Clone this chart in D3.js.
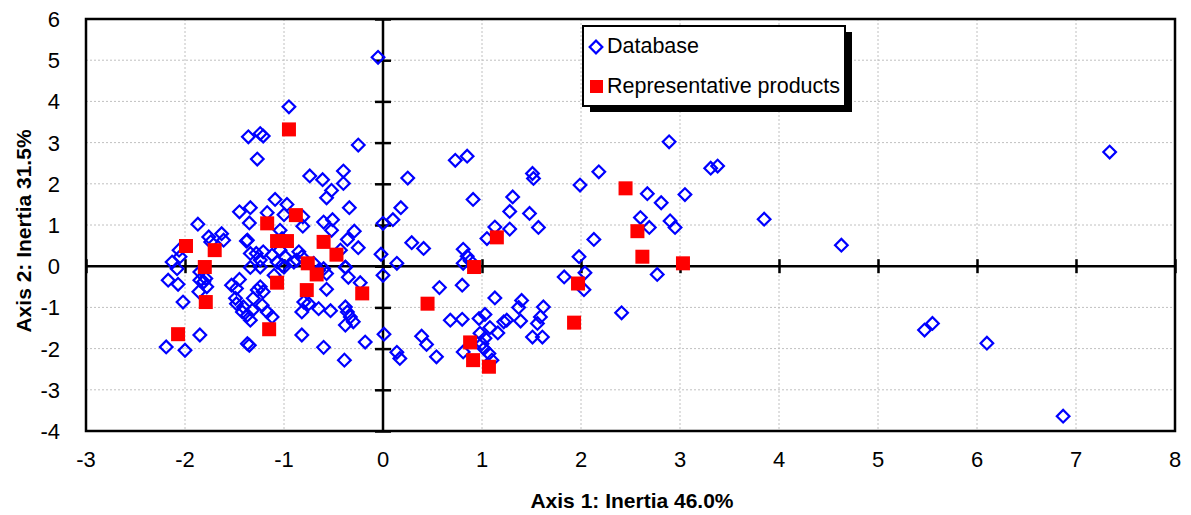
<!DOCTYPE html>
<html>
<head>
<meta charset="utf-8">
<script src="https://cdn.jsdelivr.net/npm/d3@7"></script>
<style>
    body { margin: 0; background: #fff; }
    svg text { font-family: "Liberation Sans", Arial, sans-serif; }
</style>
</head>
<body>
<svg id="chart" width="1191" height="515"></svg>
<script>
// tick values for both axes
var xTicks = [-3, -2, -1, 0, 1, 2, 3, 4, 5, 6, 7, 8];
var yTicks = [-4, -3, -2, -1, 0, 1, 2, 3, 4, 5, 6];

// axis titles and legend labels
var xTitle = 'Axis 1: Inertia 46.0%';
var yTitle = 'Axis 2: Inertia 31.5%';
var seriesNames = ['Database', 'Representative products'];

// database products (axis 1, axis 2)
var database = [
    [-0.95, 3.87], [-1.36, 3.14], [-1.24, 3.22], [-1.21, 3.16], [-1.27, 2.60], [-0.25, 2.94],
    [-0.74, 2.19], [-0.61, 2.10], [-0.40, 2.31], [-0.40, 2.01], [-0.52, 1.84], [-0.57, 1.66], [-0.34, 1.42],
    [-1.09, 1.62], [-0.97, 1.50], [-1.00, 1.25], [-1.45, 1.32], [-1.34, 1.42], [-1.17, 1.30], [-0.81, 1.20],
    [-1.35, 1.05], [-0.81, 0.97], [-1.04, 0.87], [-0.60, 1.07], [-0.51, 1.13], [-0.52, 0.87], [-0.29, 0.85],
    [-0.36, 0.65], [-0.25, 0.45], [-1.87, 1.02], [-1.38, 0.61], [-1.76, 0.71], [-1.74, 0.59], [-1.63, 0.79],
    [-1.61, 0.63], [-1.37, 0.63], [-2.06, 0.39], [-2.13, 0.10], [-2.08, -0.06], [-2.05, 0.23],
    [-1.34, 0.31], [-1.28, 0.31], [-1.21, 0.35], [-1.12, 0.27], [-1.24, 0.15], [-1.34, -0.03], [-1.24, -0.02],
    [-1.02, 0.67], [-1.04, 0.39], [-0.85, 0.35], [-0.82, 0.23], [-0.87, 0.15], [-0.99, 0.23], [-1.07, 0.10],
    [-1.02, 0.02], [-0.43, 0.39], [-0.38, -0.02], [-0.70, 0.07], [-0.65, -0.10], [-0.90, 0.10],
    [0.00, 1.04], [0.10, 1.13], [0.18, 1.42], [0.25, 2.14], [-0.05, 5.07], [-0.02, 0.29], [0.14, 0.07],
    [-2.17, -0.34], [-2.07, -0.44], [-2.02, -0.87], [-1.85, -1.67], [-2.19, -1.96], [-2.00, -2.04],
    [-1.85, -0.34], [-1.79, -0.30], [-1.78, -0.50], [-1.81, -0.38], [-1.86, -0.62], [-1.85, -0.14],
    [-1.53, -0.46], [-1.45, -0.32], [-1.48, -0.54], [-1.49, -0.78], [-1.48, -0.91], [-1.41, -0.99],
    [-1.42, -1.11], [-1.37, -1.19], [-1.32, -1.07], [-1.34, -1.31], [-1.27, -0.58], [-1.24, -0.50],
    [-1.31, -0.78], [-1.21, -0.62], [-1.22, -0.95], [-1.17, -1.11], [-1.12, -1.23], [-1.37, -1.88],
    [-1.35, -1.92], [-1.10, -0.22], [-1.00, -0.02],
    [-0.57, -0.56], [-0.35, -0.27], [-0.23, -0.40], [-0.38, -0.03], [0.00, -0.22],
    [-0.80, -0.87], [-0.75, -0.91], [-0.82, -1.11], [-0.65, -1.03], [-0.53, -1.08],
    [-0.38, -0.99], [-0.36, -1.11], [-0.33, -1.23], [-0.30, -1.35], [-0.38, -1.43],
    [-0.82, -1.67], [-0.60, -1.97], [-0.18, -1.84], [-0.39, -2.28], [0.01, -1.65],
    [-0.60, -0.06], [-0.57, -0.18],
    [2.89, 3.02], [0.73, 2.57], [0.85, 2.67], [1.51, 2.25], [1.52, 2.13], [2.18, 2.29], [1.99, 1.97],
    [2.67, 1.76], [3.05, 1.74], [2.81, 1.54], [1.31, 1.68], [0.91, 1.62], [1.28, 1.33], [1.48, 1.28],
    [1.57, 0.94], [1.28, 0.90], [1.13, 0.95], [1.05, 0.67], [2.60, 1.18], [2.69, 0.94], [2.90, 1.10],
    [2.95, 0.94], [2.13, 0.65], [0.29, 0.57], [0.41, 0.43], [0.81, 0.41], [0.85, 0.24], [0.88, 0.13],
    [0.81, 0.07], [1.98, 0.23], [1.83, -0.26], [2.04, -0.16], [2.03, -0.57], [2.77, -0.20],
    [0.57, -0.52], [0.80, -0.46], [1.13, -0.77], [1.40, -0.83], [1.37, -1.00], [1.62, -0.99], [2.41, -1.13],
    [0.68, -1.31], [0.80, -1.29], [0.97, -1.27], [1.03, -1.17], [1.08, -1.49], [1.16, -1.62], [1.22, -1.35],
    [1.25, -1.31], [1.39, -1.33], [1.56, -1.39], [1.59, -1.23], [1.51, -1.72], [1.61, -1.72],
    [0.39, -1.70], [0.44, -1.90], [0.14, -2.09], [0.17, -2.24], [0.54, -2.20],
    [0.98, -1.63], [1.03, -1.75], [1.00, -1.88], [0.81, -2.08], [1.02, -2.00], [1.07, -2.12], [1.10, -2.28],
    [3.31, 2.38], [3.38, 2.43], [3.85, 1.14], [4.63, 0.51], [5.47, -1.55], [5.55, -1.39],
    [6.10, -1.87], [6.87, -3.64], [7.34, 2.77]
];

// representative products (axis 1, axis 2)
var representative = [
    [-0.95, 3.32], [-0.88, 1.24], [-1.17, 1.04], [-1.07, 0.61], [-0.97, 0.61], [-0.60, 0.59], [-0.47, 0.28],
    [-1.99, 0.49], [-1.70, 0.39], [-1.80, -0.02], [-1.79, -0.87], [-2.07, -1.65], [-1.07, -0.40],
    [-0.76, 0.07], [-0.67, -0.20], [-0.77, -0.58], [-0.21, -0.66], [-1.15, -1.53],
    [1.15, 0.70], [0.92, -0.02], [0.45, -0.91], [0.88, -1.85], [0.91, -2.28], [1.07, -2.44],
    [2.45, 1.89], [2.57, 0.85], [2.62, 0.23], [3.03, 0.07], [1.97, -0.42], [1.93, -1.37]
];

(function (d3) {
    var svg = d3.select('#chart'),
        plot = { left: 86, right: 1175, top: 19, bottom: 431 },
        x = d3.scaleLinear().domain([-3, 8]).range([plot.left, plot.right]),
        y = d3.scaleLinear().domain([-4, 6]).range([plot.bottom, plot.top]),
        blue = '#0000ff',
        red = '#ff0000';

    // dotted gridlines
    var grid = svg.append('g').attr('class', 'grid')
        .attr('stroke', '#c0c0c0')
        .attr('stroke-width', 1)
        .attr('stroke-dasharray', '2,2');
    grid.selectAll('line.gx').data(xTicks).enter().append('line')
        .attr('class', 'gx')
        .attr('x1', function (d) { return x(d); })
        .attr('x2', function (d) { return x(d); })
        .attr('y1', plot.top)
        .attr('y2', plot.bottom);
    grid.selectAll('line.gy').data(yTicks).enter().append('line')
        .attr('class', 'gy')
        .attr('x1', plot.left)
        .attr('x2', plot.right)
        .attr('y1', function (d) { return y(d); })
        .attr('y2', function (d) { return y(d); });

    // axes crossing at the origin, with cross tick marks
    var xAxis = d3.axisBottom(x).tickValues(xTicks).tickSize(14).tickFormat('');
    var yAxis = d3.axisLeft(y).tickValues(yTicks).tickSize(16).tickFormat('');
    svg.append('g')
        .attr('transform', 'translate(0,' + (y(0) - 7) + ')')
        .call(xAxis)
        .call(function (g) {
            g.select('.domain').remove();
            g.selectAll('line').attr('stroke', '#000').attr('stroke-width', 2.5);
        });
    svg.append('g')
        .attr('transform', 'translate(' + (x(0) + 8) + ',0)')
        .call(yAxis)
        .call(function (g) {
            g.select('.domain').remove();
            g.selectAll('line').attr('stroke', '#000').attr('stroke-width', 2.5);
        });
    svg.append('line')
        .attr('x1', plot.left).attr('x2', plot.right)
        .attr('y1', y(0)).attr('y2', y(0))
        .attr('stroke', '#000').attr('stroke-width', 2.5);
    svg.append('line')
        .attr('x1', x(0)).attr('x2', x(0))
        .attr('y1', plot.top).attr('y2', plot.bottom)
        .attr('stroke', '#000').attr('stroke-width', 2.5);

    // tick labels sit outside the frame
    svg.append('g').selectAll('text').data(xTicks).enter().append('text')
        .attr('x', function (d) { return x(d); })
        .attr('y', 467)
        .attr('text-anchor', 'middle')
        .attr('font-size', 22)
        .text(function (d) { return d; });
    svg.append('g').selectAll('text').data(yTicks).enter().append('text')
        .attr('x', 60)
        .attr('y', function (d) { return y(d); })
        .attr('dy', '0.36em')
        .attr('text-anchor', 'end')
        .attr('font-size', 22)
        .text(function (d) { return d; });

    // plot frame
    svg.append('rect')
        .attr('x', plot.left).attr('y', plot.top)
        .attr('width', plot.right - plot.left)
        .attr('height', plot.bottom - plot.top)
        .attr('fill', 'none')
        .attr('stroke', '#000')
        .attr('stroke-width', 2.5);

    // markers
    var diamond = d3.symbol().type(d3.symbolSquare).size(80);
    svg.append('g').selectAll('path').data(database).enter().append('path')
        .attr('d', diamond)
        .attr('transform', function (d) {
            return 'translate(' + x(d[0]) + ',' + y(d[1]) + ') rotate(45)';
        })
        .attr('fill', 'none')
        .attr('stroke', blue)
        .attr('stroke-width', 2.2);
    svg.append('g').selectAll('rect').data(representative).enter().append('rect')
        .attr('x', function (d) { return x(d[0]) - 7; })
        .attr('y', function (d) { return y(d[1]) - 7; })
        .attr('width', 14)
        .attr('height', 14)
        .attr('fill', red);

    // axis titles
    svg.append('text')
        .attr('x', 632).attr('y', 508)
        .attr('text-anchor', 'middle')
        .attr('font-size', 21)
        .attr('font-weight', 'bold')
        .text(xTitle);
    svg.append('text')
        .attr('transform', 'translate(31,231) rotate(-90)')
        .attr('text-anchor', 'middle')
        .attr('font-size', 21)
        .attr('font-weight', 'bold')
        .text(yTitle);

    // legend with drop shadow
    var legend = svg.append('g').attr('transform', 'translate(583,26)');
    legend.append('rect')
        .attr('x', 7).attr('y', 6)
        .attr('width', 262).attr('height', 80)
        .attr('fill', '#000');
    legend.append('rect')
        .attr('width', 262).attr('height', 80)
        .attr('fill', '#fff')
        .attr('stroke', '#000')
        .attr('stroke-width', 2);
    legend.append('path')
        .attr('d', diamond)
        .attr('transform', 'translate(13,21) rotate(45)')
        .attr('fill', 'none')
        .attr('stroke', blue)
        .attr('stroke-width', 2.2);
    legend.append('rect')
        .attr('x', 7).attr('y', 54)
        .attr('width', 13).attr('height', 13)
        .attr('fill', red);
    legend.selectAll('text.lab').data(seriesNames).enter().append('text')
        .attr('class', 'lab')
        .attr('x', 24)
        .attr('y', function (d, i) { return 27 + i * 40; })
        .attr('font-size', 21.5)
        .text(function (d) { return d; });
}(window.d3));
</script>
</body>
</html>
